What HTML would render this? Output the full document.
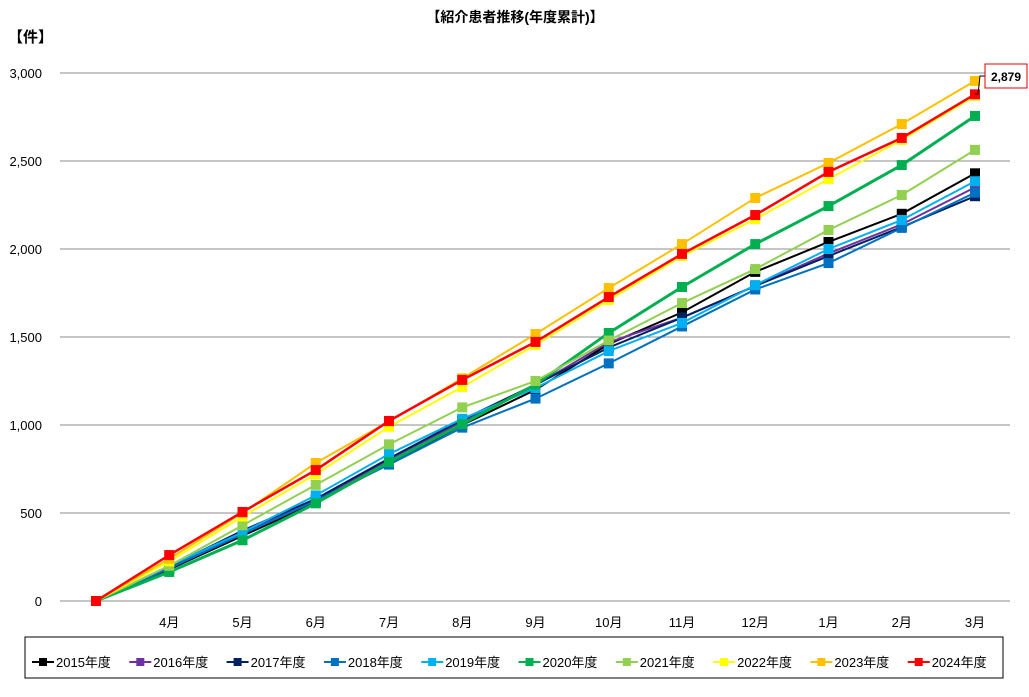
<!DOCTYPE html>
<html><head><meta charset="utf-8"><style>
body{margin:0;background:#fff;font-family:"Liberation Sans","Noto Sans CJK JP",sans-serif}
svg text{font-family:"Liberation Sans","Noto Sans CJK JP",sans-serif}
</style></head><body>
<svg id="chart" width="1029" height="692" xmlns="http://www.w3.org/2000/svg">
<rect width="1029" height="692" fill="#fff"/>
<text x="515" y="22" text-anchor="middle" font-size="14" font-weight="bold">【紹介患者推移(年度累計)】</text>
<text x="8" y="42" font-size="15" font-weight="bold">【件】</text>
<g id="grid"></g><g id="xlabels"></g><g id="series"></g>
<g>
<polyline points="975,94 978,94 980,76 986,76" fill="none" stroke="#000" stroke-width="1"/>
<rect x="985" y="64" width="42" height="24" fill="#fff" stroke="#e00000" stroke-width="1"/>
<text x="1006" y="81" text-anchor="middle" font-size="12" font-weight="bold">2,879</text>
</g>
<rect x="25" y="637" width="978" height="41" fill="#fff" stroke="#000" stroke-width="1"/>
<g id="legend"></g>
</svg>
<script>
const categories=["","4月","5月","6月","7月","8月","9月","10月","11月","12月","1月","2月","3月"];
const yTicks=[0,500,1000,1500,2000,2500,3000];
const seriesNames=["2015年度","2016年度","2017年度","2018年度","2019年度","2020年度","2021年度","2022年度","2023年度","2024年度"];
const s2015=[0,180,370,560,780,1000,1200,1460,1640,1870,2040,2200,2430];
const s2016=[0,190,390,575,800,1020,1225,1470,1610,1790,1975,2140,2350];
const s2017=[0,195,400,580,810,1030,1230,1440,1610,1790,1960,2125,2300];
const s2018=[0,185,380,570,775,985,1150,1350,1560,1770,1920,2120,2320];
const s2019=[0,200,390,600,835,1035,1210,1420,1580,1795,2000,2165,2385];
const s2020=[0,165,345,555,790,1005,1230,1523,1784,2028,2244,2477,2756];
const s2021=[0,200,430,660,890,1100,1250,1480,1693,1886,2108,2307,2563];
const s2022=[0,225,480,720,990,1216,1455,1710,1960,2170,2398,2620,2870];
const s2023=[0,240,500,784,1020,1265,1517,1778,2028,2290,2489,2710,2955];
const s2024=[0,261,506,744,1023,1256,1472,1727,1972,2193,2438,2631,2879];
const allSeries=[s2015,s2016,s2017,s2018,s2019,s2020,s2021,s2022,s2023,s2024];
const colors=["#000000","#7030a0","#002060","#0070c0","#00b0f0","#00b050","#92d050","#ffff00","#ffc000","#ff0000"];
const widths=[2,2,2,2,2,3,2,2,2,2.5];
const NS="http://www.w3.org/2000/svg";
const x=i=>96+i*73.25, y=v=>601-v/3000*528;
function mk(t,a,p){const e=document.createElementNS(NS,t);for(const k in a)e.setAttribute(k,a[k]);p.appendChild(e);return e;}
const grid=document.getElementById('grid');
yTicks.forEach(v=>{
 const l=mk('line',{x1:60,x2:1010,y1:y(v),y2:y(v),stroke:'#8c8c8c','stroke-width':1},grid);
 
 
 const t=mk('text',{x:42,y:y(v)+5,'text-anchor':'end','font-size':13},grid);
 t.textContent=v.toLocaleString('en-US');
 
 
});
const xl=document.getElementById('xlabels');
categories.forEach((c,i)=>{if(!c)return;
 const t=mk('text',{x:x(i),y:627,'text-anchor':'middle','font-size':13},xl);t.textContent=c;
 
 
});
const sg=document.getElementById('series');
allSeries.forEach((s,k)=>{
 const g=mk('g',{},sg);
 
 
 mk('polyline',{points:s.map((v,i)=>x(i)+','+y(v)).join(' '),fill:'none',stroke:colors[k],'stroke-width':widths[k]},g);
 s.forEach((v,i)=>{const r=mk('rect',{x:x(i)-5,y:y(v)-5,width:10,height:10,fill:colors[k]},g);
  
  });
});
const lg=document.getElementById('legend');
seriesNames.forEach((n,k)=>{
 const lx=32+k*97.3;
 const g=mk('g',{},lg);
 
 
 mk('line',{x1:lx,x2:lx+22,y1:662,y2:662,stroke:colors[k],'stroke-width':2},g);
 mk('rect',{x:lx+7,y:658,width:8,height:8,fill:colors[k]},g);
 const t=mk('text',{x:lx+24,y:667,'font-size':13},g);t.textContent=n;
});
</script>
</body></html>
